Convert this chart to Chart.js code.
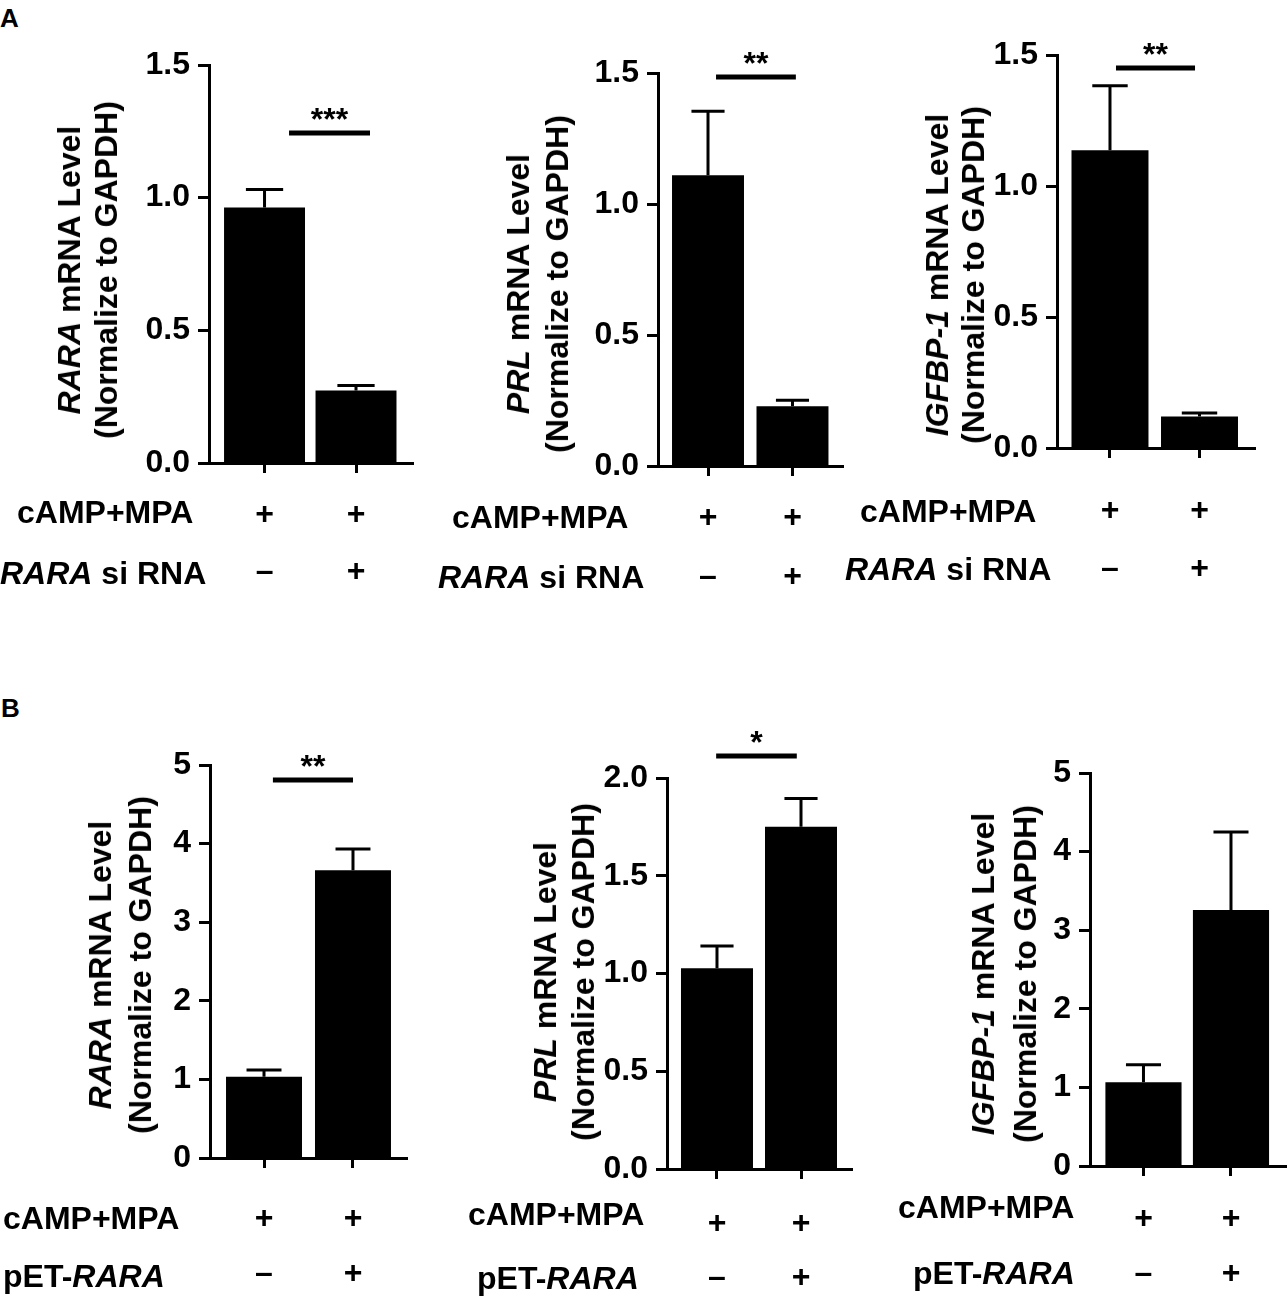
<!DOCTYPE html>
<html>
<head>
<meta charset="utf-8">
<script src="https://cdn.jsdelivr.net/npm/chart.js"></script>
<style>
  body { margin: 0; background: #fff; }
  #page { position: relative; width: 1287px; height: 1296px; overflow: hidden;
          font-family: "Liberation Sans", Arial, sans-serif; font-weight: bold; color: #000; }
  canvas { position: absolute; }
  .lbl { position: absolute; white-space: nowrap; font-size: 32px; line-height: 1; transform: translateY(-50%); }
  .ytitle { position: absolute; white-space: nowrap; font-size: 32px; text-align: center;
            transform: translate(-50%, -50%) rotate(-90deg); }
  .letter { position: absolute; font-size: 26px; line-height: 1; }
</style>
</head>
<body>
<div id="page"></div>
<script>
// ---- data ----
// A: RARA siRNA knockdown
const siRows = ['cAMP+MPA', '<i>RARA</i> si RNA'];
const siSigns = [['+', '\u2013'], ['+', '+']];
const siRaraMean = [0.963, 0.273];
const siRaraSem  = [0.068, 0.019];
const siPrlMean  = [1.110, 0.228];
const siPrlSem   = [0.244, 0.023];
const siIgfMean  = [1.136, 0.120];
const siIgfSem   = [0.247, 0.014];

// B: pET-RARA overexpression
const oeRows = ['cAMP+MPA', 'pET-<i>RARA</i>'];
const oeSigns = [['+', '\u2013'], ['+', '+']];
const oeRaraMean = [1.034, 3.66];
const oeRaraSem  = [0.086, 0.27];
const oePrlMean  = [1.027, 1.751];
const oePrlSem   = [0.114, 0.144];
const oeIgfMean  = [1.066, 3.258];
const oeIgfSem   = [0.222, 0.992];

const normLine = '(Normalize to GAPDH)';
const FONT = '"Liberation Sans", Arial, sans-serif';
Chart.defaults.font.family = FONT;

// layout of the six panels (page pixels)
const panels = [
  { mean: siRaraMean, sem: siRaraSem, signs: siSigns, rows: siRows, gene: 'RARA',
    yMax: 1.5, yStep: 0.5, dec: 1, sig: { from: 1.268, to: 2.153, y: 1.244, text: '***' },
    axisX: 209, yTop: 65, yBottom: 463, xEnd: 413, xMin: 0.393, xMax: 2.623, barPct: 0.885,
    tickPad: 13.5, lineH: 57, titleX: 88, titleY: 270, titleGap: 37, rowX: [17, 0], rowY: [512, 573] },
  { mean: siPrlMean, sem: siPrlSem, signs: siSigns, rows: siRows, gene: 'PRL',
    yMax: 1.5, yStep: 0.5, dec: 1, sig: { from: 1.095, to: 2.04, y: 1.485, text: '**' },
    axisX: 658, yTop: 73, yBottom: 466, xEnd: 843, xMin: 0.408, xMax: 2.598, barPct: 0.852,
    tickPad: 12.5, lineH: 59, titleX: 538, titleY: 284, titleGap: 39, rowX: [452, 438], rowY: [517, 577] },
  { mean: siIgfMean, sem: siIgfSem, signs: siSigns, rows: siRows, gene: 'IGFBP-1',
    yMax: 1.5, yStep: 0.5, dec: 1, sig: { from: 1.067, to: 1.95, y: 1.45, text: '**' },
    axisX: 1057, yTop: 55, yBottom: 448, xEnd: 1255, xMin: 0.408, xMax: 2.62, barPct: 0.86,
    tickPad: 24, lineH: 58, titleX: 955, titleY: 275, titleGap: 36, rowX: [860, 845], rowY: [511, 569] },
  { mean: oeRaraMean, sem: oeRaraSem, signs: oeSigns, rows: oeRows, gene: 'RARA',
    yMax: 5, yStep: 1, dec: 0, sig: { from: 1.10, to: 2.0, y: 4.81, text: '**' },
    axisX: 210, yTop: 765, yBottom: 1158, xEnd: 407, xMin: 0.393, xMax: 2.607, barPct: 0.854,
    tickPad: 23.5, lineH: 55, titleX: 120, titleY: 965, titleGap: 40, rowX: [3, 3], rowY: [1218, 1276] },
  { mean: oePrlMean, sem: oePrlSem, signs: oeSigns, rows: oeRows, gene: 'PRL',
    yMax: 2, yStep: 0.5, dec: 1, sig: { from: 0.99, to: 1.95, y: 2.113, text: '*' },
    axisX: 667, yTop: 778, yBottom: 1169, xEnd: 852, xMin: 0.405, xMax: 2.607, barPct: 0.857,
    tickPad: 18, lineH: 54, titleX: 564, titleY: 972, titleGap: 38, rowX: [468, 477], rowY: [1214, 1278] },
  { mean: oeIgfMean, sem: oeIgfSem, signs: oeSigns, rows: oeRows, gene: 'IGFBP-1',
    yMax: 5, yStep: 1, dec: 0, sig: null,
    axisX: 1090, yTop: 773, yBottom: 1166, xEnd: 1287, xMin: 0.389, xMax: 2.64, barPct: 0.87,
    tickPad: 15.5, lineH: 55, titleX: 1004, titleY: 974, titleGap: 42, rowX: [898, 913], rowY: [1207, 1273] }
];

const page = document.getElementById('page');

function addDiv(cls, html, x, y) {
  const d = document.createElement('div');
  d.className = cls;
  d.innerHTML = html;
  d.style.left = x + 'px';
  d.style.top = y + 'px';
  page.appendChild(d);
  return d;
}

addDiv('letter', 'A', 0, 5);
addDiv('letter', 'B', 1, 695);

// error bars + significance bar, drawn through the chart scales
function marksPlugin(p) {
  return {
    id: 'marks',
    afterDatasetsDraw(chart) {
      const ctx = chart.ctx, xs = chart.scales.x, ys = chart.scales.y;
      const bars = chart.getDatasetMeta(0).data;
      ctx.save();
      ctx.strokeStyle = '#000';
      ctx.lineWidth = 3;
      bars.forEach((bar, i) => {
        const top = ys.getPixelForValue(p.mean[i] + p.sem[i]);
        const half = bar.width * 0.23;
        ctx.beginPath();
        ctx.moveTo(bar.x, bar.y);
        ctx.lineTo(bar.x, top);
        ctx.moveTo(bar.x - half, top);
        ctx.lineTo(bar.x + half, top);
        ctx.stroke();
      });
      if (p.sig) {
        const y = ys.getPixelForValue(p.sig.y);
        const x0 = xs.getPixelForValue(p.sig.from);
        const x1 = xs.getPixelForValue(p.sig.to);
        ctx.lineWidth = 5;
        ctx.beginPath();
        ctx.moveTo(x0, y);
        ctx.lineTo(x1, y);
        ctx.stroke();
        ctx.fillStyle = '#000';
        ctx.font = 'bold 32px ' + FONT;
        ctx.textAlign = 'center';
        ctx.textBaseline = 'alphabetic';
        ctx.fillText(p.sig.text, (x0 + x1) / 2, y - 3);
      }
      ctx.restore();
    }
  };
}

panels.forEach(p => {
  const left = p.axisX - 100;
  const top = p.yTop - 75;
  const w = p.xEnd + 8 - left;
  const h = p.yBottom + 140 - top;

  const cv = document.createElement('canvas');
  cv.width = w; cv.height = h;
  cv.style.left = left + 'px';
  cv.style.top = top + 'px';
  cv.style.width = w + 'px';
  cv.style.height = h + 'px';
  page.appendChild(cv);

  // y-axis title (gene name in italics) and the row labels on the left
  const t = addDiv('ytitle', '<i>' + p.gene + '</i> mRNA Level<br>' + normLine, p.titleX, p.titleY);
  t.style.lineHeight = p.titleGap + 'px';
  p.rows.forEach((r, k) => addDiv('lbl', r, p.rowX[k], p.rowY[k]));

  new Chart(cv, {
    type: 'bar',
    data: {
      datasets: [{
        data: p.mean.map((v, i) => ({ x: i + 1, y: v })),
        backgroundColor: '#000',
        borderWidth: 0,
        barPercentage: p.barPct,
        categoryPercentage: 1
      }]
    },
    options: {
      responsive: false,
      animation: false,
      layout: { padding: { top: p.yTop - top, right: 8, left: 0, bottom: 0 } },
      plugins: { legend: { display: false }, tooltip: { enabled: false } },
      scales: {
        x: {
          type: 'linear',
          bounds: 'data',
          offset: false,
          min: p.xMin,
          max: p.xMax,
          afterBuildTicks: s => { s.ticks = [{ value: 1 }, { value: 2 }]; },
          afterFit: s => { s.height = 140; },
          grid: { offset: false, drawOnChartArea: false, drawTicks: true, tickLength: 10, tickWidth: 3, tickColor: '#000' },
          border: { display: true, color: '#000', width: 3 },
          ticks: {
            color: '#000', autoSkip: false, maxRotation: 0, padding: p.tickPad,
            font: { size: 32, weight: 'bold', lineHeight: p.lineH + 'px' },
            callback: v => p.signs[Math.round(v) - 1]
          }
        },
        y: {
          min: 0,
          max: p.yMax,
          afterFit: s => { s.width = 100; },
          grid: { drawOnChartArea: false, tickLength: 11, tickWidth: 3, tickColor: '#000' },
          border: { color: '#000', width: 3 },
          ticks: {
            stepSize: p.yStep, color: '#000', padding: 8,
            font: { size: 32, weight: 'bold' },
            callback: v => Number(v).toFixed(p.dec)
          }
        }
      }
    },
    plugins: [marksPlugin(p)]
  });
});
</script>
</body>
</html>
